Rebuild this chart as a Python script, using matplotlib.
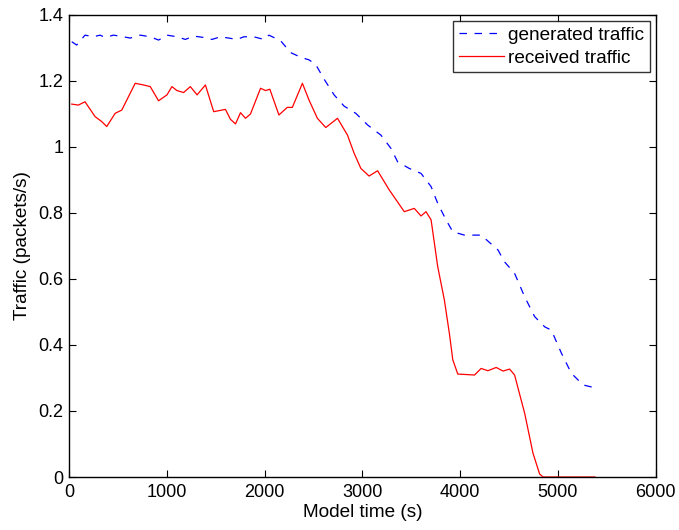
import matplotlib
matplotlib.use("Agg")
import matplotlib.pyplot as plt

gen_t = [28, 79, 164, 250, 318, 369, 455, 557, 626, 728, 831, 916, 1002, 1104, 1190, 1275,
         1378, 1463, 1549, 1720, 1788, 1890, 1993, 2044, 2164, 2267, 2369, 2455, 2523, 2608,
         2711, 2813, 2933, 3053, 3190, 3292, 3361, 3480, 3600, 3703, 3771, 3856, 3925, 4044,
         4215, 4387, 4454, 4557, 4660, 4762, 4865, 4933, 5036, 5138, 5258, 5395]
gen_v = [1.319, 1.309, 1.339, 1.334, 1.339, 1.332, 1.339, 1.334, 1.330, 1.339, 1.334, 1.324,
         1.339, 1.334, 1.326, 1.336, 1.332, 1.326, 1.334, 1.326, 1.334, 1.334, 1.326, 1.339,
         1.322, 1.286, 1.272, 1.264, 1.250, 1.206, 1.158, 1.124, 1.102, 1.067, 1.036, 0.996,
         0.955, 0.935, 0.920, 0.880, 0.829, 0.779, 0.743, 0.733, 0.733, 0.688, 0.652, 0.617,
         0.546, 0.486, 0.455, 0.445, 0.375, 0.314, 0.279, 0.269]

rec_t = [28, 96, 164, 267, 335, 386, 472, 540, 677, 762, 831, 916, 1002, 1053, 1104, 1172,
         1241, 1310, 1395, 1480, 1600, 1651, 1703, 1754, 1805, 1856, 1959, 2010, 2054, 2147,
         2232, 2284, 2387, 2455, 2540, 2626, 2746, 2848, 2916, 2985, 3069, 3156, 3275, 3429,
         3531, 3600, 3651, 3703, 3771, 3839, 3890, 3925, 3976, 4147, 4215, 4284, 4369, 4438,
         4506, 4557, 4660, 4745, 4813, 4848, 5378]
rec_v = [1.130, 1.127, 1.137, 1.092, 1.077, 1.062, 1.102, 1.112, 1.193, 1.188, 1.183, 1.140,
         1.158, 1.183, 1.171, 1.165, 1.183, 1.158, 1.188, 1.107, 1.114, 1.084, 1.070, 1.104,
         1.087, 1.100, 1.178, 1.171, 1.175, 1.097, 1.120, 1.120, 1.193, 1.142, 1.087, 1.059,
         1.087, 1.036, 0.981, 0.935, 0.912, 0.928, 0.870, 0.804, 0.814, 0.791, 0.804, 0.779,
         0.637, 0.536, 0.435, 0.355, 0.312, 0.309, 0.329, 0.322, 0.332, 0.321, 0.327, 0.309,
         0.193, 0.072, 0.009, 0.0, 0.0]

plt.rcParams['font.family'] = ['Liberation Sans', 'DejaVu Sans']

fig = plt.figure(figsize=(6.79, 5.30), dpi=100)
ax = fig.add_axes([0.1016, 0.100, 0.8641, 0.8717])

ax.plot(gen_t, gen_v, color='blue', linestyle=(0, (6, 6)), linewidth=0.9, label='generated traffic')
ax.plot(rec_t, rec_v, color='red', linestyle='-', linewidth=0.9, label='received traffic')

ax.set_xlim(0, 6000)
ax.set_ylim(0, 1.4)
ax.set_xticks([0, 1000, 2000, 3000, 4000, 5000, 6000])
ax.set_yticks([0, 0.2, 0.4, 0.6, 0.8, 1.0, 1.2, 1.4])
ax.set_yticklabels(['0', '0.2', '0.4', '0.6', '0.8', '1', '1.2', '1.4'])
ax.tick_params(direction='in', top=True, right=True, labelsize=13, length=5, width=0.8)
ax.tick_params(axis='x', pad=5)
ax.tick_params(axis='y', pad=4)
for s in ax.spines.values():
    s.set_linewidth(1.0)
ax.set_xlabel('Model time (s)', fontsize=13.7, labelpad=2)
ax.set_ylabel('Traffic (packets/s)', fontsize=13.7, labelpad=5)

leg = ax.legend(loc='upper right', fontsize=13.7, frameon=True, fancybox=False,
                edgecolor='black', borderaxespad=0.3, handlelength=2.4, handletextpad=0.2,
                borderpad=0.3, labelspacing=0.3)
leg.get_frame().set_linewidth(1.0)

fig.savefig('out.png', dpi=100)
